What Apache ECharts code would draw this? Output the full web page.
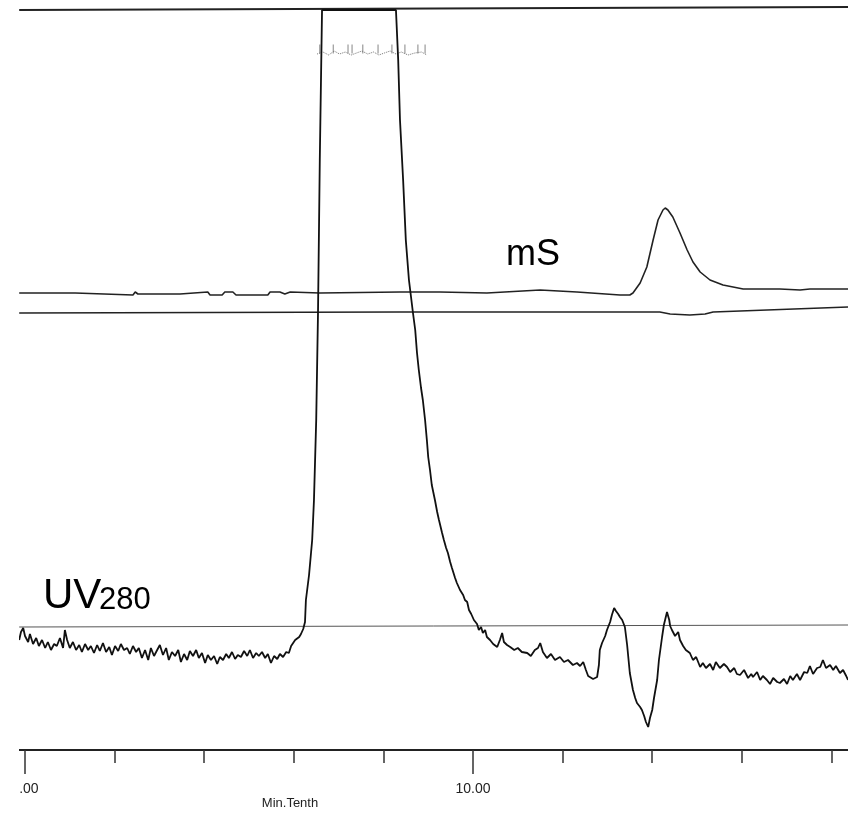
<!DOCTYPE html>
<html><head><meta charset="utf-8">
<script src="https://cdn.jsdelivr.net/npm/echarts@6/dist/echarts.min.js"></script>
<style>html,body{margin:0;padding:0;background:#fff}#c{width:848px;height:813px}</style>
</head><body><div id="c"></div>
<script>
const xMin = -0.134, xMax = 18.37;
const yMin = 0, yMax = 74.6;
const tickValues = [0, 2, 4, 6, 8, 10, 12, 14, 16, 18];
const majorTickValues = [0, 10];
const axisTitle = 'Min.Tenth';

const uvTrace = [
[-0.13,11.0],[-0.09,11.8],[-0.04,12.2],[0.00,11.4],[0.07,10.8],[0.11,11.6],[0.18,10.6],[0.25,11.2],[0.31,10.4],[0.38,11.0],
[0.45,10.2],[0.51,10.8],[0.58,10.0],[0.65,10.6],[0.71,10.4],[0.78,11.2],[0.85,10.2],[0.89,12.0],[0.94,11.0],[1.00,10.2],
[1.07,10.8],[1.14,10.0],[1.21,10.5],[1.27,9.8],[1.34,10.6],[1.41,10.0],[1.47,10.4],[1.54,9.7],[1.61,10.5],[1.67,9.9],
[1.74,10.7],[1.81,9.8],[1.88,10.3],[1.94,9.5],[2.01,10.4],[2.08,9.9],[2.14,10.6],[2.21,10.0],[2.28,10.2],[2.34,9.6],
[2.41,10.4],[2.48,9.8],[2.54,10.2],[2.61,9.2],[2.68,10.0],[2.75,9.0],[2.81,10.2],[2.88,9.4],[2.95,10.0],[3.01,10.5],
[3.08,9.5],[3.15,10.2],[3.21,9.0],[3.28,9.8],[3.35,9.4],[3.42,10.0],[3.48,8.8],[3.55,9.6],[3.62,9.0],[3.68,9.9],
[3.75,9.4],[3.82,10.0],[3.88,9.2],[3.95,9.7],[4.02,8.7],[4.08,9.5],[4.15,9.0],[4.22,9.4],[4.29,8.6],[4.35,9.3],
[4.42,9.0],[4.49,9.6],[4.55,9.2],[4.62,9.8],[4.69,9.1],[4.75,9.5],[4.82,9.3],[4.89,9.9],[4.96,9.4],[5.02,10.0],
[5.09,9.2],[5.16,9.7],[5.22,9.4],[5.29,9.8],[5.36,9.2],[5.42,9.6],[5.49,8.7],[5.56,9.4],[5.63,9.1],[5.69,9.6],
[5.76,9.3],[5.83,9.8],[5.89,9.7],[5.94,10.4],[5.98,10.2],[6.03,11.0],[6.07,10.8],[6.12,11.3],[6.16,11.6],[6.21,12.1],
[6.25,12.8],[6.27,15.0],[6.34,17.5],[6.41,21.0],[6.45,25.0],[6.50,33.0],[6.54,43.7],[6.58,59.0],[6.63,74.0],
[8.28,74.0],[8.33,69.0],[8.37,63.0],[8.44,57.0],[8.50,51.0],[8.57,47.0],[8.66,43.7],[8.71,42.0],[8.75,39.7],[8.79,38.0],
[8.84,36.2],[8.88,35.0],[8.93,33.0],[8.97,31.0],[9.00,29.3],[9.04,28.0],[9.08,26.5],[9.15,25.0],[9.20,23.8],[9.24,23.0],
[9.31,21.7],[9.35,21.0],[9.40,20.2],[9.44,19.7],[9.49,18.8],[9.53,18.2],[9.60,17.2],[9.64,16.7],[9.71,16.0],[9.78,15.5],
[9.82,15.0],[9.87,14.8],[9.91,14.0],[9.96,13.6],[10.02,13.0],[10.09,12.6],[10.13,12.0],[10.18,12.3],[10.22,11.7],[10.27,12.0],
[10.31,11.3],[10.38,11.0],[10.45,10.6],[10.54,10.3],[10.60,11.0],[10.65,11.7],[10.69,10.8],[10.76,10.5],[10.83,10.3],[10.92,10.0],
[11.00,10.2],[11.09,9.8],[11.21,9.7],[11.29,9.4],[11.38,10.0],[11.45,10.2],[11.50,10.7],[11.56,9.8],[11.65,9.2],[11.74,9.6],
[11.83,9.0],[11.94,9.3],[12.03,8.8],[12.12,9.0],[12.23,8.5],[12.32,8.7],[12.39,8.4],[12.46,8.8],[12.52,8.0],[12.57,7.4],
[12.61,7.2],[12.68,7.1],[12.77,7.3],[12.81,8.5],[12.83,10.0],[12.88,10.7],[12.95,11.4],[12.99,12.0],[13.06,12.8],[13.10,13.5],
[13.15,14.2],[13.19,13.9],[13.24,13.6],[13.28,13.3],[13.33,13.0],[13.39,12.3],[13.44,10.5],[13.50,7.7],[13.57,6.0],[13.62,5.2],
[13.66,4.7],[13.73,4.3],[13.77,4.0],[13.82,3.4],[13.86,2.8],[13.91,2.3],[13.95,3.2],[14.00,4.0],[14.04,5.2],[14.11,7.0],
[14.15,9.0],[14.22,11.3],[14.26,12.5],[14.33,13.8],[14.38,13.0],[14.40,12.4],[14.44,12.0],[14.51,11.4],[14.58,11.8],[14.62,11.0],
[14.69,10.4],[14.75,10.0],[14.84,9.7],[14.91,9.0],[14.98,9.3],[15.07,8.3],[15.13,8.7],[15.20,8.2],[15.29,8.6],[15.36,8.0],
[15.42,8.8],[15.51,8.2],[15.60,8.6],[15.67,8.3],[15.74,7.8],[15.83,8.2],[15.89,7.6],[15.96,7.5],[16.05,8.0],[16.14,7.2],
[16.21,7.6],[16.25,7.3],[16.34,7.8],[16.41,7.0],[16.47,7.4],[16.56,7.0],[16.63,6.6],[16.70,7.2],[16.79,6.8],[16.85,6.7],
[16.94,7.1],[17.01,6.6],[17.08,7.4],[17.14,7.0],[17.23,7.6],[17.30,7.0],[17.39,7.8],[17.46,7.7],[17.52,8.4],[17.59,7.6],
[17.68,8.2],[17.75,8.3],[17.81,9.0],[17.88,8.2],[17.97,8.5],[18.04,8.0],[18.10,8.4],[18.19,7.7],[18.26,8.0],[18.33,7.4],[18.37,7.0]
];

const msTrace = [
[-0.13,45.7],[1.12,45.7],[1.14,45.5],[2.41,45.5],[2.46,45.8],[2.52,45.6],[3.46,45.6],[3.50,45.8],[4.08,45.8],[4.13,45.5],
[4.40,45.5],[4.46,45.8],[4.64,45.8],[4.71,45.5],[5.42,45.5],[5.47,45.8],[5.69,45.8],[5.80,45.6],[5.92,45.8],[6.58,45.7],
[8.37,45.8],[9.26,45.8],[10.31,45.7],[11.50,46.0],[12.32,45.8],[13.28,45.5],[13.50,45.5],[13.57,45.7],[13.73,46.7],[13.88,48.3],
[14.02,51.0],[14.13,53.0],[14.24,54.0],[14.29,54.2],[14.35,54.0],[14.46,53.3],[14.62,51.7],[14.78,50.0],[14.91,48.8],[15.07,47.8],
[15.29,47.0],[15.58,46.5],[16.03,46.1],[16.85,46.1],[17.30,46.0],[17.52,46.1],[18.37,46.1]
];

const secondTrace = [[-0.13,43.7],[8.37,43.8],[14.17,43.8],[14.40,43.6],[14.84,43.5],[15.18,43.6],[15.36,43.8],[18.37,44.3]];
const uvBaseline = [[-0.13,12.3],[18.37,12.5]];
const topLine = [[-0.13,74.0],[18.37,74.3]];
const fractionTrace = [[6.52,69.6],[6.65,69.8],[6.78,69.5],[6.90,69.9],[7.02,69.6],[7.15,69.8],[7.28,69.5],[7.40,69.7],
[7.52,69.9],[7.65,69.6],[7.78,69.8],[7.90,69.5],[8.02,69.7],[8.15,69.9],[8.28,69.6],[8.40,69.8],[8.55,69.5],[8.70,69.7],[8.85,69.8],[8.97,69.5]];
const fractionMarks = [[6.58,69.8],[6.88,69.8],[7.21,69.8],[7.30,69.8],[7.54,69.8],[7.88,69.8],[8.19,69.8],[8.48,69.8],[8.77,69.8],[8.93,69.8]];

const chart = echarts.init(document.getElementById('c'), null, {renderer: 'canvas'});
const lineBase = {type: 'line', showSymbol: false, symbol: 'none', animation: false, smooth: false, silent: true};
const fontFam = '"Liberation Sans", Arial, sans-serif';
chart.setOption({
  animation: false,
  backgroundColor: '#fff',
  grid: {left: 19, right: 0, top: 4, bottom: 63, containLabel: false},
  xAxis: [
    {type: 'value', min: xMin, max: xMax, position: 'bottom',
     axisLine: {show: true, onZero: false, lineStyle: {color: '#222', width: 2}},
     axisTick: {show: true, customValues: tickValues, length: 13, lineStyle: {color: '#333', width: 1.5}},
     axisLabel: {show: false}, splitLine: {show: false}},
    {type: 'value', min: xMin, max: xMax, position: 'bottom', offset: 0,
     axisLine: {show: false},
     axisTick: {show: true, customValues: majorTickValues, length: 24, lineStyle: {color: '#333', width: 1.5}},
     axisLabel: {show: true, customValues: majorTickValues, margin: 32, fontSize: 14, color: '#222', fontFamily: fontFam,
       formatter: v => v.toFixed(2)},
     splitLine: {show: false}}
  ],
  yAxis: {type: 'value', min: yMin, max: yMax, show: false},
  series: [
    Object.assign({}, lineBase, {name: 'top', data: topLine, lineStyle: {color: '#222', width: 2}}),
    Object.assign({}, lineBase, {name: 'UV baseline', data: uvBaseline, lineStyle: {color: '#555', width: 1}}),
    Object.assign({}, lineBase, {name: 'second', data: secondTrace, lineStyle: {color: '#222', width: 1.6}}),
    Object.assign({}, lineBase, {name: 'mS', data: msTrace, lineStyle: {color: '#222', width: 1.6}}),
    Object.assign({}, lineBase, {name: 'fractions', data: fractionTrace, lineStyle: {color: '#777', width: 1, type: 'dotted'}}),
    {type: 'scatter', name: 'fraction marks', data: fractionMarks, symbol: 'rect', symbolSize: [1, 9], symbolOffset: [0, -3],
     itemStyle: {color: '#666'}, silent: true, animation: false},
    Object.assign({}, lineBase, {name: 'UV280', data: uvTrace, lineStyle: {color: '#111', width: 1.8}})
  ],
  graphic: [
    {type: 'rect', left: 0, top: 0, shape: {width: 19, height: 813}, style: {fill: '#fff'}, z: 100},
    {type: 'text', x: 506, y: 255, z: 101, style: {text: 'mS', font: '36px ' + fontFam, fill: '#000', verticalAlign: 'middle'}},
    {type: 'text', x: 43, y: 596, z: 101, style: {text: 'UV', font: '42px ' + fontFam, fill: '#000', verticalAlign: 'middle'}},
    {type: 'text', x: 99, y: 600, z: 101, style: {text: '280', font: '31px ' + fontFam, fill: '#000', verticalAlign: 'middle'}},
    {type: 'text', x: 290, y: 803, z: 101, style: {text: axisTitle, font: '13px ' + fontFam, fill: '#222', align: 'center', verticalAlign: 'middle'}}
  ]
});
</script></body></html>
